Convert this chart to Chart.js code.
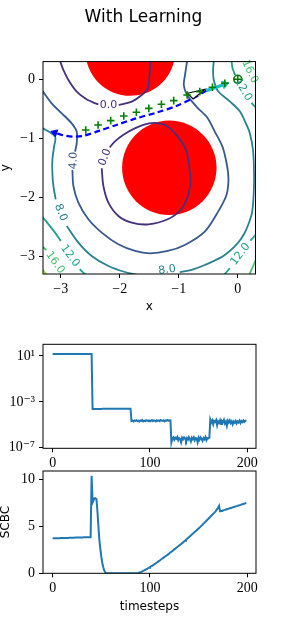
<!DOCTYPE html>
<html>
<head>
<meta charset="utf-8">
<script src="https://cdn.jsdelivr.net/npm/chart.js@4.4.1/dist/chart.umd.min.js"></script>
<style>
  html, body { margin:0; padding:0; background:#ffffff; }
  body { width:287px; height:624px; position:relative; overflow:hidden; }
  canvas { position:absolute; left:0; }
</style>
</head>
<body>
<canvas id="map" width="287" height="320" style="top:0px"></canvas>
<canvas id="err" width="287" height="145" style="top:330px"></canvas>
<canvas id="scbc" width="287" height="164" style="top:460px"></canvas>
<script>
// ================= DATA =================
// --- top panel: map ---
const mapTicks = [-3, -2, -1, 0];
const obstacleX = [-1.82, -1.16];
const obstacleY = [0.48, -1.50];
const obstacleR = [0.76, 0.80];

const contourLevels = [0, 4, 8, 12, 16, 20];

const c0UpperLeft = [[-3.01,0.31],[-2.955,0.158],[-2.87,-0.011],[-2.729,-0.209],[-2.588,-0.322],[-2.446,-0.395],[-2.362,-0.424]];
const c0UpperRight = [[-2.017,-0.435],[-1.994,-0.429],[-1.797,-0.379],[-1.627,-0.266],[-1.525,-0.153],[-1.497,0.045],[-1.48,0.31]];
const c0Lower = [[-2.305,-1.508],[-2.277,-1.808],[-2.192,-2.090],[-2.023,-2.316],[-1.797,-2.429],[-1.514,-2.458],[-1.186,-2.373],[-0.960,-2.203],[-0.847,-1.977],[-0.802,-1.751],[-0.819,-1.503],[-0.876,-1.198],[-1.017,-0.972],[-1.186,-0.802],[-1.322,-0.746],[-1.503,-0.746],[-1.746,-0.831],[-1.944,-0.944],[-2.085,-1.056],[-2.169,-1.153]];
const c4Upper = [[-3.32,-0.181],[-3.153,-0.407],[-2.983,-0.576],[-2.814,-0.746],[-2.729,-0.887],[-2.729,-1.085],[-2.757,-1.226]];
const c4Main = [[-2.802,-1.537],[-2.785,-1.808],[-2.701,-2.090],[-2.531,-2.373],[-2.305,-2.599],[-2.023,-2.797],[-1.740,-2.910],[-1.492,-2.949],[-1.186,-2.910],[-0.898,-2.808],[-0.559,-2.582],[-0.333,-2.243],[-0.192,-1.960],[-0.158,-1.706],[-0.181,-1.469],[-0.260,-1.141],[-0.390,-0.887],[-0.520,-0.644],[-0.689,-0.475],[-0.859,-0.266],[-0.915,-0.096],[-0.893,0.079],[-0.859,0.31]];
const c8Left = [[-3.32,-0.819],[-3.096,-0.972],[-3.113,-1.141],[-3.141,-1.367],[-3.141,-1.593],[-3.124,-1.808],[-3.085,-2.034]];
const c8Bottom = [[-2.898,-2.486],[-2.701,-2.768],[-2.475,-2.994],[-2.192,-3.164],[-1.910,-3.266],[-1.661,-3.322],[-1.52,-3.34]];
const c8Right = [[-0.983,-3.271],[-0.757,-3.220],[-0.559,-3.147],[-0.220,-2.977],[0.062,-2.695],[0.232,-2.299],[0.268,-1.960],[0.275,-1.6],[0.258,-1.198],[0.203,-0.910],[0.147,-0.768],[0.034,-0.542],[-0.136,-0.373],[-0.333,-0.203],[-0.407,-0.011],[-0.418,0.158],[-0.407,0.31]];
const c12LeftA = [[-3.322,-2.316],[-3.096,-2.599],[-3.0,-2.740]];
const c12LeftB = [[-2.678,-3.220],[-2.576,-3.316]];
const c12BottomRightA = [[0.316,-2.621],[0.215,-2.734]];
const c12BottomRightB = [[-0.136,-3.203],[-0.237,-3.32]];
const c12TopRightA = [[-0.107,0.328],[-0.090,0.192],[-0.045,0.073]];
const c12TopRightB = [[0.232,-0.401],[0.316,-0.492]];
const c16Left = [[-3.322,-2.825],[-3.243,-2.893]];
const c16TopRightA = [[0.113,0.328],[0.13,0.29]];
const c16TopRightB = [[0.28,-0.02],[0.316,-0.07]];
const c16BottomRight = [[0.316,-3.034],[0.192,-3.32]];
const c20Corner = [[-3.322,-3.209],[-3.237,-3.311]];

const contourPieces = [
  {level:0, pts:c0UpperLeft}, {level:0, pts:c0UpperRight}, {level:0, pts:c0Lower},
  {level:4, pts:c4Upper}, {level:4, pts:c4Main},
  {level:8, pts:c8Left}, {level:8, pts:c8Bottom}, {level:8, pts:c8Right},
  {level:12, pts:c12LeftA}, {level:12, pts:c12LeftB}, {level:12, pts:c12BottomRightA},
  {level:12, pts:c12BottomRightB}, {level:12, pts:c12TopRightA}, {level:12, pts:c12TopRightB},
  {level:16, pts:c16Left}, {level:16, pts:c16TopRightA}, {level:16, pts:c16TopRightB}, {level:16, pts:c16BottomRight},
  {level:20, pts:c20Corner}
];

const labelText  = ['0.0', '0.0', '4.0', '8.0', '12.0', '16.0', '8.0', '12.0', '12.0', '16.0'];
const labelLevel = [0, 0, 4, 8, 12, 16, 8, 12, 12, 16];
const labelX     = [-2.190, -2.249, -2.780, -3.000, -2.842, -3.096, -1.198, 0.045, 0.090, 0.203];
const labelY     = [-0.435, -1.322, -1.379, -2.260, -2.994, -3.107, -3.232, -2.966, -0.175, 0.130];
const labelAngle = [0, -68, -88, 68, 54, 55, -7, -53, 60, 65];

const refX = [-2.576,-2.367,-2.153,-1.932,-1.718,-1.508,-1.294,-1.085,-0.859,-0.644,-0.429,-0.220];
const refY = [-0.859,-0.774,-0.701,-0.621,-0.559,-0.492,-0.424,-0.362,-0.266,-0.209,-0.136,-0.068];
const goalX = [0];
const goalY = [0];
const trajX = [-0.531,-0.757,-1.040,-1.379,-1.718,-2.056,-2.339,-2.621,-2.791,-2.960,-3.102];
const trajY = [-0.192,-0.322,-0.452,-0.565,-0.661,-0.774,-0.870,-0.960,-0.972,-0.949,-0.904];
const velX = [-0.531,-0.220];
const velY = [-0.192,-0.085];
const robotX = [-0.853,-0.554,-0.757,-0.853];
const robotY = [-0.237,-0.169,-0.333,-0.237];

// --- middle panel: log error ---
const timeTicks = [0, 100, 200];
const errTickValues = [1e-7, 1e-3, 1e1];
const errTickLabels = ['10\u207B\u2077', '10\u207B\u00B3', '10\u00B9'];
const errPhase1 = [15,15,15,15,15,15,15,15,15,15, 15,15,15,15,15,15,15,15,15,15, 15,15,15,15,15,15,15,15,15,15, 15,15,15,15,15,15,15,15,15,15, 15];
const errPhase2 = [2.40e-4,2.40e-4,2.40e-4,2.40e-4,2.40e-4,2.40e-4,2.40e-4,2.40e-4,2.40e-4,2.40e-4,
                   2.45e-4,2.45e-4,2.45e-4,2.45e-4,2.45e-4,2.45e-4,2.45e-4,2.45e-4,2.45e-4,2.45e-4,
                   2.50e-4,2.50e-4,2.50e-4,2.50e-4,2.50e-4,2.50e-4,2.50e-4,2.50e-4,2.50e-4,2.50e-4,
                   2.55e-4,2.55e-4,2.55e-4,2.55e-4,2.55e-4,2.55e-4,2.55e-4,2.55e-4,2.55e-4,2.55e-4];
const errPhase3 = [2.1e-5,2.3e-5,2.0e-5,2.4e-5,2.2e-5,2.5e-5,2.1e-5,2.3e-5,1.9e-5,2.4e-5,
                   2.2e-5,2.6e-5,2.0e-5,2.3e-5,2.1e-5,2.5e-5,2.2e-5,2.4e-5,2.0e-5,2.3e-5,
                   2.2e-5,2.6e-5,2.1e-5,2.4e-5,2.3e-5,2.0e-5,2.5e-5,2.2e-5,2.4e-5,2.1e-5,
                   2.6e-5,2.3e-5,2.2e-5,2.5e-5,2.0e-5,2.4e-5,2.3e-5,2.6e-5,2.2e-5,2.5e-5, 2.4e-5];
const errPhase4 = [3.0e-7,6.5e-7,8.0e-7,5.0e-7,7.5e-7,6.0e-7,8.5e-7,4.5e-7,7.0e-7,6.0e-7,
                   3.0e-7,7.5e-7,5.5e-7,8.0e-7,6.5e-7,4.0e-7,7.0e-7,5.0e-7,8.5e-7,6.0e-7,
                   3.5e-7,7.5e-7,5.5e-7,8.0e-7,4.5e-7,7.0e-7,6.5e-7,3.0e-7,7.5e-7,5.0e-7,
                   8.0e-7,6.0e-7,4.0e-7,7.0e-7,5.5e-7,8.5e-7,4.5e-7,7.0e-7,6.5e-7,7.5e-7];
const errPhase5 = [2.8e-5,1.6e-5,2.4e-5,1.1e-5,2.2e-5,1.8e-5,2.6e-5,9e-6,2.0e-5,1.5e-5,
                   2.5e-5,1.2e-5,2.1e-5,1.7e-5,2.7e-5,1.3e-5,1.9e-5,8e-6,2.3e-5,1.6e-5,
                   2.4e-5,1.4e-5,2.0e-5,1.1e-5,1.9e-5,1.5e-5,2.2e-5,1.3e-5,2.0e-5,1.6e-5,
                   2.3e-5,1.4e-5,2.1e-5,1.7e-5,2.4e-5,1.8e-5,2.2e-5,2.5e-5];

// --- bottom panel: SCBC ---
const scbcTicks = [0, 5, 10];
const scbcBefore = [3.73,3.73,3.74,3.74,3.74,3.75,3.75,3.75,3.76,3.76,
                    3.76,3.77,3.77,3.77,3.78,3.78,3.78,3.79,3.79,3.79,
                    3.80,3.80,3.80,3.81,3.81,3.81,3.82,3.82,3.82,3.83,
                    3.83,3.83,3.84,3.84,3.84,3.85,3.85,3.85,3.86,3.86];
const scbcSpike = [10.4,7.56,7.8,8.0,8.0,7.9,6.6,5.0,3.55,2.6,1.75,1.1,0.65,0.3,0.1,0.02];
const scbcZero = [0,0,0,0,0,0,0,0,0,0, 0,0,0,0,0,0,0,0,0,0, 0,0,0,0,0,0,0,0,0,0, 0];
const scbcRise = [0.0,0.03,0.07,0.11,0.15,0.2,0.25,0.3,0.36,0.42,
                  0.48,0.54,0.6,0.67,0.73,0.78,0.85,0.92,1.0,1.07,
                  1.15,1.22,1.3,1.37,1.45,1.52,1.6,1.67,1.75,1.82,
                  1.9,1.97,2.05,2.13,2.22,2.3,2.38,2.47,2.55,2.63,
                  2.72,2.8,2.88,2.97,3.05,3.13,3.22,3.3,3.39,3.48,
                  3.58,3.67,3.76,3.86,3.95,4.04,4.14,4.23,4.32,4.42,
                  4.51,4.6,4.7,4.79,4.89,4.98,5.09,5.19,5.3,5.4,
                  5.51,5.61,5.72,5.82,5.93,6.03,6.14,6.24,6.35,6.45,
                  6.56,6.7,6.85,7.0,7.2,6.62,6.64,6.67,6.71,6.74,
                  6.77,6.81,6.84,6.87,6.9,6.94,6.97,7.0,7.04,7.07,
                  7.1,7.14,7.17,7.2,7.24,7.27,7.3,7.34,7.37,7.4,
                  7.44,7.47,7.5];

// ================= BUILD =================
const errValues = [].concat(errPhase1, errPhase2, errPhase3, errPhase4, errPhase5);
const scbcValues = [].concat(scbcBefore, scbcSpike, scbcZero, scbcRise);
const timesteps = errValues.map((_, i) => i);

const serif = "'Liberation Serif', 'DejaVu Serif', serif";
const sans = "'DejaVu Sans', sans-serif";
const tickFont = {family: serif, size: 14, lineHeight: 1};
const labelFont = {family: sans, size: 12, lineHeight: 1};
const levelColors = ['#46307e', '#38598c', '#26828e', '#1fa088', '#48c16e', '#a0da39'];
const colorFor = lv => levelColors[contourLevels.indexOf(lv)];
const fmtTick = v => (v < 0 ? '\u2212' + Math.abs(v) : String(v));
const toPts = arr => arr.map(([x, y]) => ({x, y}));
const zipPts = (xs, ys) => xs.map((x, i) => ({x, y: ys[i]}));

const framePlugin = {
  id: 'frame',
  afterDraw(chart) {
    const {ctx, chartArea: a} = chart;
    ctx.save();
    ctx.strokeStyle = '#000';
    ctx.lineWidth = 1;
    ctx.strokeRect(a.left, a.top, a.right - a.left, a.bottom - a.top);
    ctx.restore();
  }
};

const obstaclePlugin = {
  id: 'obstacles',
  beforeDatasetsDraw(chart) {
    const {ctx, chartArea: a, scales: {x, y}} = chart;
    ctx.save();
    ctx.beginPath();
    ctx.rect(a.left, a.top, a.right - a.left, a.bottom - a.top);
    ctx.clip();
    ctx.fillStyle = '#ff0000';
    obstacleX.forEach((cx, i) => {
      const px = x.getPixelForValue(cx), py = y.getPixelForValue(obstacleY[i]);
      const r = Math.abs(x.getPixelForValue(cx + obstacleR[i]) - px);
      ctx.beginPath();
      ctx.arc(px, py, r, 0, Math.PI * 2);
      ctx.fill();
    });
    ctx.restore();
  }
};

const contourLabelPlugin = {
  id: 'clabels',
  afterDatasetsDraw(chart) {
    const {ctx, scales: {x, y}} = chart;
    ctx.save();
    ctx.font = "11px 'DejaVu Sans'";
    ctx.textAlign = 'center';
    ctx.textBaseline = 'middle';
    labelText.forEach((t, i) => {
      ctx.save();
      ctx.translate(x.getPixelForValue(labelX[i]), y.getPixelForValue(labelY[i]));
      ctx.rotate(labelAngle[i] * Math.PI / 180);
      ctx.fillStyle = colorFor(labelLevel[i]);
      ctx.fillText(t, 0, 0);
      ctx.restore();
    });
    ctx.restore();
  }
};

function axisX(min, max, ticks, height, title, titlePadBottom, fmt) {
  return {
    type: 'linear', min, max,
    afterBuildTicks: s => { s.ticks = ticks.map(v => ({value: v})); },
    afterFit: s => { s.height = height; },
    ticks: {font: tickFont, color: '#000', padding: 4, maxRotation: 0, autoSkip: false, callback: fmt || (v => fmtTick(v))},
    grid: {drawOnChartArea: false, drawTicks: true, tickLength: 4, tickColor: '#000', color: '#000'},
    border: {display: false},
    title: {display: !!title, text: title || '', color: '#000', font: labelFont, padding: {top: 0, bottom: titlePadBottom}}
  };
}
function axisY(type, min, max, ticks, title, fmt) {
  return {
    type, min, max,
    afterBuildTicks: s => { s.ticks = ticks.map(v => ({value: v})); },
    afterFit: s => { s.width = 43; },
    ticks: {font: tickFont, color: '#000', padding: 4, autoSkip: false, callback: fmt || (v => fmtTick(v))},
    grid: {drawOnChartArea: false, drawTicks: true, tickLength: 4, tickColor: '#000', color: '#000'},
    border: {display: false},
    title: {display: !!title, text: title || '', color: '#000', font: labelFont, padding: {top: 0, bottom: 0}}
  };
}
const rightSpacer = w => ({
  type: 'linear', position: 'right', display: true,
  grid: {display: false}, ticks: {display: false}, border: {display: false},
  afterFit: s => { s.width = w; }
});
const baseOpts = {responsive: false, animation: false, events: [], devicePixelRatio: 1};

// ----- top chart -----
const mapSets = [];
contourPieces.forEach(p => mapSets.push({
  data: toPts(p.pts), showLine: true, borderColor: colorFor(p.level), borderWidth: 1.8,
  pointRadius: 0, tension: 0.3, clip: 0, order: 10, fill: false
}));
mapSets.push({data: zipPts(trajX, trajY), showLine: true, borderColor: '#0000ff', borderWidth: 2.2,
  borderDash: [6, 3.5], pointRadius: 0, tension: 0.3, order: 6});
mapSets.push({data: zipPts(trajX.slice(-1), trajY.slice(-1)), showLine: false, pointStyle: 'triangle',
  pointRadius: 4, pointRotation: -72, backgroundColor: '#0000ff', borderColor: '#0000ff', borderWidth: 1, order: 5});
mapSets.push({data: zipPts(robotX, robotY), showLine: true, borderColor: '#000', borderWidth: 1.1,
  backgroundColor: '#ffffff', fill: 'shape', pointRadius: 0, tension: 0, order: 4});
mapSets.push({data: zipPts(velX, velY), showLine: true, borderColor: '#17c3c3', borderWidth: 3.2,
  pointRadius: 0, tension: 0, order: 3});
mapSets.push({data: zipPts(velX.slice(-1), velY.slice(-1)), showLine: false, pointStyle: 'triangle',
  pointRadius: 4.5, pointRotation: 71, backgroundColor: '#17c3c3', borderColor: '#17c3c3', borderWidth: 1, order: 3});
mapSets.push({data: zipPts(refX, refY), showLine: false, pointStyle: 'cross', pointRadius: 3.8,
  borderColor: '#008000', borderWidth: 1.6, order: 2});
mapSets.push({data: zipPts(goalX, goalY), showLine: false, pointStyle: 'circle', pointRadius: 4,
  borderColor: '#007000', backgroundColor: 'rgba(0,0,0,0)', borderWidth: 1.6, order: 1});
mapSets.push({data: zipPts(goalX, goalY), showLine: false, pointStyle: 'cross', pointRadius: 4,
  borderColor: '#007000', borderWidth: 1.4, order: 1});

new Chart(document.getElementById('map'), {
  type: 'scatter',
  data: {datasets: mapSets},
  options: Object.assign({}, baseOpts, {
    layout: {padding: 0},
    plugins: {
      legend: {display: false}, tooltip: {enabled: false},
      title: {display: true, text: 'With Learning', color: '#000',
        font: {family: sans, size: 17, weight: 'normal', lineHeight: 1.2}, padding: {top: 7.8, bottom: 33.4}}
    },
    scales: {
      x: axisX(-3.3, 0.3, mapTicks, 46, 'x', 7.3),
      y: axisY('linear', -3.3, 0.3, mapTicks, 'y'),
      yRight: rightSpacer(31.5)
    }
  }),
  plugins: [obstaclePlugin, contourLabelPlugin, framePlugin]
});

// ----- middle chart -----
new Chart(document.getElementById('err'), {
  type: 'scatter',
  data: {datasets: [{data: zipPts(timesteps, errValues), showLine: true, borderColor: '#1f77b4',
    borderWidth: 2, pointRadius: 0, tension: 0}]},
  options: Object.assign({}, baseOpts, {
    layout: {padding: {top: 14.3}},
    plugins: {legend: {display: false}, tooltip: {enabled: false}},
    scales: {
      x: axisX(-9.95, 208.95, timeTicks, 26.7, '', 0),
      y: axisY('logarithmic', 8.91e-8, 104.7, errTickValues, '', (v, i) => errTickLabels[i]),
      yRight: rightSpacer(31)
    }
  }),
  plugins: [framePlugin]
});

// ----- bottom chart -----
new Chart(document.getElementById('scbc'), {
  type: 'scatter',
  data: {datasets: [{data: zipPts(timesteps, scbcValues), showLine: true, borderColor: '#1f77b4',
    borderWidth: 2, pointRadius: 0, tension: 0}]},
  options: Object.assign({}, baseOpts, {
    layout: {padding: {top: 11}},
    plugins: {legend: {display: false}, tooltip: {enabled: false}},
    scales: {
      x: axisX(-9.95, 208.95, timeTicks, 50.7, 'timesteps', 11.3),
      y: axisY('linear', 0, 10.92, scbcTicks, 'SCBC'),
      yRight: rightSpacer(31)
    }
  }),
  plugins: [framePlugin]
});
</script>
</body>
</html>
